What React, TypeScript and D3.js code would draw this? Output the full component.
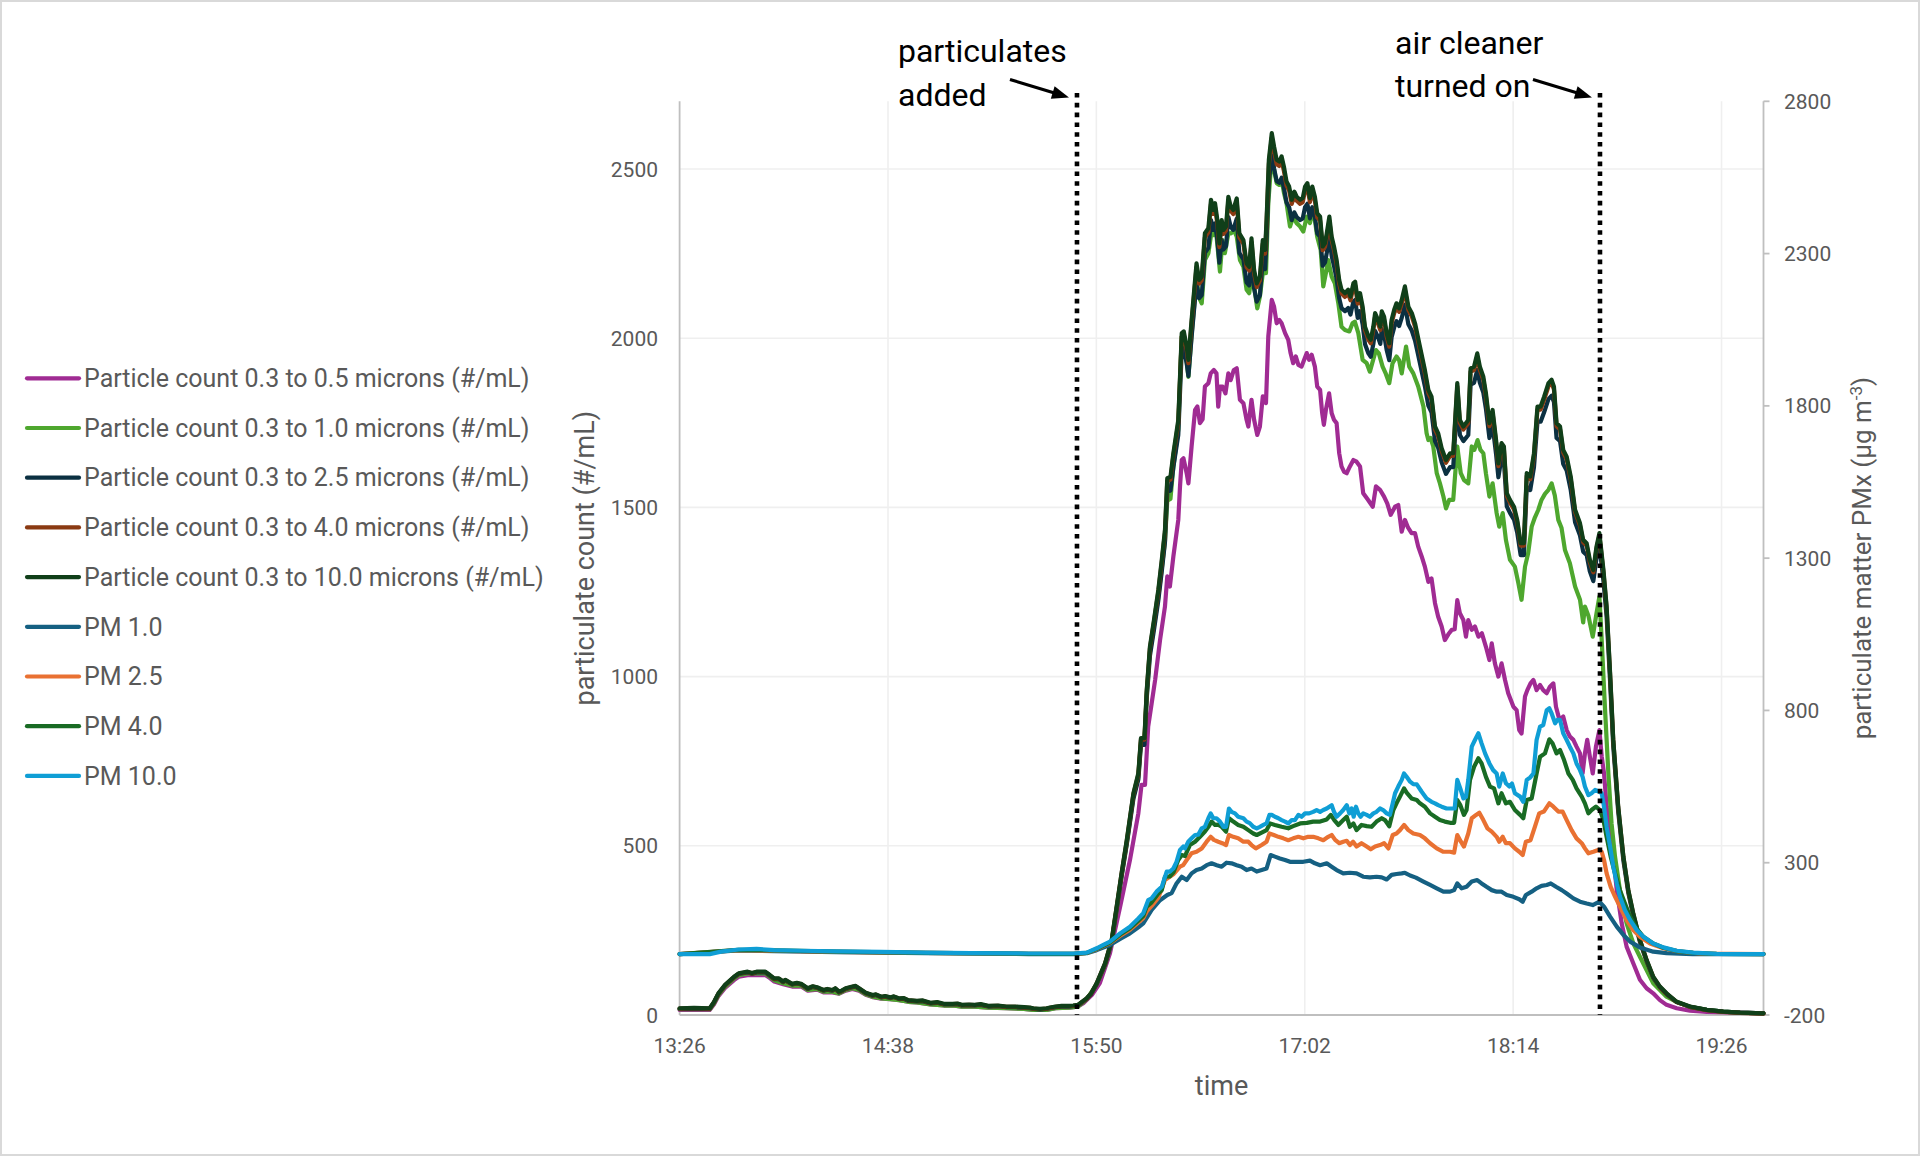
import React from 'react';
import * as d3 from 'd3';

// ---------- axis / tick data ----------
const xTickLabels = ['13:26', '14:38', '15:50', '17:02', '18:14', '19:26'];
const xEndMinutes = 374.5; // minutes after 13:26 where the data ends
const leftMax = 2700;
const leftTicks = [0, 500, 1000, 1500, 2000, 2500];
const rightMin = -200;
const rightMax = 2800;
const rightTicks = [-200, 300, 800, 1300, 1800, 2300, 2800];

// events (minutes after 13:26)
const eventMinutes = [137.3, 318.0];
const eventLabels = [['particulates', 'added'], ['air cleaner', 'turned on']];

// ---------- particle counts (#/mL) ----------
// shared sampling times (minutes after 13:26) for 0.3-2.5, 0.3-4.0, 0.3-10.0
const countTimes = [
  0, 5, 10.4, 11.9, 13.4, 15.7, 18.8, 20.4, 23.5, 25,
  26.6, 29.6, 31.2, 32.7, 34.3, 35.8, 36.5, 38.9, 40.5, 42,
  44.3, 46, 47.5, 49.7, 51, 52.8, 53.8, 55.1, 56, 57.4,
  59.7, 60.8, 62, 64.3, 66.7, 67.8, 69.7, 71, 72.8, 74,
  75.9, 77.5, 79, 82, 84, 86.7, 89, 91.3, 94.4, 96,
  97.5, 100, 102, 104, 106.7, 110, 112.9, 116, 119, 121,
  122.2, 124.5, 126.8, 128, 129.9, 132, 134.5, 136, 137.6,
  140.6, 142.2, 144.1, 147, 149.3, 151, 152.7, 154.5, 156.8, 158.5,
  159.4, 160.6, 161.4, 162.5, 163.9, 165.4, 166.6, 167.7, 168.5, 169.6,
  170.6, 172.3, 173.5, 174.2, 175.2, 175.8, 176.9, 178.6, 179.5, 180.4,
  181.5, 182.7, 183.6, 184.4, 185, 185.8, 186.5, 187.3, 187.9, 188.8,
  189.6, 190.4, 191.3, 192.5, 193.4, 194.8, 195.9, 196.8, 197.6, 198.5,
  199.4, 200.5, 201.5, 202.3, 202.8, 203.6, 204.6, 205.4, 206.3, 207.2,
  208, 208.8, 209.7, 210.6, 211.5, 212.4, 213.2, 214.4, 215.3, 216.1,
  216.9, 217.8, 218.6, 219.5, 220.3, 221.3, 222.2, 223, 223.6, 224.5,
  225.3, 226.1, 227, 227.9, 228.7, 229.9, 231, 231.8, 232.8, 233.4,
  234.3, 235.1, 236, 236.8, 238, 238.8, 239.7, 240.3, 241.3, 242.1,
  242.6, 243.4, 244.3, 245.2, 246, 246.9, 247.7, 248.6, 249.5, 250.6,
  251.8, 253, 254.1, 255.8, 257.5, 258.7, 259.8, 261, 262.1, 263.3,
  264.8, 266.2, 267.3, 268.7, 269.6, 270.8, 272.5, 273.3, 274.5, 275.6,
  276.5, 277.7, 278.6, 279.8, 280.9, 282.1, 282.9, 284, 284.8, 285.8,
  286.9, 288.3, 289.4, 290.6, 291.7, 292.7, 293.9, 295.2, 296.4, 297.5,
  298.7, 300.2, 301.3, 302.1, 303, 304.2, 305.3, 306.5, 307.9, 309.4,
  311.1, 312.2, 313.4, 314.5, 315.7, 316.8, 317.8, 319.2, 320.3, 321.5,
  322.6, 324.3, 326.1, 327.8, 329.5, 331.8, 334.1, 336.4, 338.7, 341,
  344.5, 349.1, 354.9, 360.6, 366.4, 374.5,
];

const count10_0 = [
  20, 21, 20, 39, 64, 89, 113, 123, 128, 124,
  128, 128, 118, 108, 108, 99, 104, 92, 95, 92,
  79, 85, 82, 74, 77, 74, 79, 69, 72, 79,
  84, 86, 79, 66, 59, 61, 54, 56, 52, 55,
  49, 50, 44, 42, 43, 36, 38, 33, 33, 34,
  30, 31, 30, 32, 27, 28, 25, 25, 23, 22,
  20, 18, 20, 22, 25, 27, 27, 28, 30,
  49, 64, 94, 153, 222, 320, 419, 517, 655, 714,
  818, 818, 960, 1088, 1167, 1256, 1345, 1433, 1586, 1590,
  1660, 1758, 2015, 2020, 1975, 1936, 2054, 2221, 2172, 2182,
  2310, 2325, 2409, 2379, 2399, 2349, 2280, 2349, 2320, 2330,
  2418, 2389, 2379, 2413, 2310, 2290, 2221, 2211, 2295, 2202,
  2162, 2182, 2290, 2261, 2349, 2527, 2606, 2566, 2527, 2522,
  2537, 2507, 2463, 2448, 2409, 2433, 2418, 2409, 2414, 2448,
  2458, 2414, 2448, 2418, 2369, 2359, 2271, 2281, 2310, 2359,
  2300, 2271, 2231, 2172, 2143, 2133, 2143, 2123, 2162, 2167,
  2113, 2133, 2093, 2034, 2005, 1995, 2034, 2074, 2054, 2034,
  2079, 2064, 2015, 1985, 2054, 2084, 2103, 2088, 2113, 2153,
  2093, 2074, 2044, 1975, 1906, 1847, 1827, 1739, 1719, 1675,
  1640, 1660, 1660, 1867, 1758, 1739, 1758, 1911, 1916, 1955,
  1916, 1886, 1837, 1749, 1788, 1699, 1630, 1690, 1680, 1542,
  1522, 1502, 1463, 1394, 1394, 1601, 1591, 1660, 1798, 1798,
  1827, 1867, 1877, 1857, 1749, 1739, 1670, 1650, 1591, 1493,
  1453, 1404, 1394, 1345, 1315, 1384, 1424, 1315, 1207, 1010,
  813, 616, 468, 369, 301, 222, 163, 113, 84, 64,
  39, 25, 15, 10, 7, 5,
];

const count4_0 = [
  19, 20, 19, 38, 63, 88, 112, 122, 127, 123,
  127, 127, 117, 107, 107, 98, 103, 91, 94, 91,
  78, 84, 81, 73, 76, 73, 78, 68, 71, 78,
  83, 85, 78, 65, 58, 60, 53, 55, 51, 54,
  48, 49, 43, 41, 42, 35, 37, 32, 32, 33,
  29, 30, 29, 31, 26, 27, 24, 24, 22, 21,
  19, 17, 19, 21, 24, 26, 26, 27, 29,
  48, 63, 93, 152, 221, 318, 417, 514, 652, 710,
  814, 814, 955, 1083, 1161, 1250, 1338, 1426, 1578, 1582,
  1652, 1749, 2005, 2010, 1965, 1926, 2044, 2210, 2161, 2171,
  2298, 2313, 2397, 2367, 2387, 2337, 2269, 2337, 2308, 2318,
  2406, 2377, 2367, 2401, 2298, 2279, 2210, 2200, 2284, 2191,
  2151, 2171, 2279, 2250, 2337, 2514, 2593, 2553, 2514, 2509,
  2524, 2494, 2451, 2436, 2397, 2421, 2406, 2397, 2402, 2436,
  2446, 2402, 2436, 2406, 2357, 2347, 2260, 2270, 2298, 2347,
  2289, 2260, 2220, 2161, 2132, 2122, 2132, 2112, 2151, 2156,
  2102, 2122, 2083, 2024, 1995, 1985, 2024, 2064, 2044, 2024,
  2069, 2054, 2005, 1975, 2044, 2074, 2092, 2078, 2102, 2142,
  2083, 2064, 2034, 1965, 1896, 1838, 1818, 1730, 1710, 1667,
  1632, 1652, 1652, 1858, 1749, 1730, 1749, 1901, 1906, 1945,
  1906, 1877, 1828, 1740, 1779, 1691, 1622, 1682, 1672, 1534,
  1514, 1494, 1456, 1387, 1387, 1593, 1583, 1652, 1789, 1789,
  1818, 1858, 1868, 1848, 1740, 1730, 1662, 1642, 1583, 1486,
  1446, 1397, 1387, 1338, 1308, 1377, 1417, 1308, 1201, 1005,
  809, 613, 466, 367, 299, 221, 162, 112, 83, 63,
  38, 24, 14, 9, 6, 4,
];

const count2_5 = [
  18, 19, 18, 37, 62, 87, 111, 121, 126, 122,
  126, 126, 116, 106, 106, 97, 102, 90, 93, 90,
  77, 83, 80, 72, 75, 72, 77, 67, 70, 77,
  82, 84, 77, 64, 57, 59, 52, 54, 50, 53,
  47, 48, 42, 40, 41, 34, 36, 31, 31, 32,
  28, 29, 28, 30, 25, 26, 23, 23, 21, 20,
  18, 16, 18, 20, 23, 25, 25, 26, 28,
  47, 62, 91, 149, 216, 312, 409, 504, 639, 696,
  798, 798, 936, 1061, 1138, 1225, 1311, 1397, 1546, 1550,
  1619, 1714, 1965, 1970, 1926, 1888, 2003, 2165, 2118, 2127,
  2252, 2267, 2349, 2320, 2339, 2290, 2223, 2290, 2262, 2272,
  2358, 2329, 2320, 2353, 2252, 2233, 2165, 2156, 2238, 2147,
  2108, 2127, 2233, 2204, 2290, 2464, 2541, 2502, 2464, 2459,
  2474, 2444, 2401, 2387, 2349, 2372, 2358, 2349, 2354, 2387,
  2397, 2354, 2387, 2358, 2310, 2300, 2214, 2224, 2252, 2300,
  2243, 2214, 2175, 2118, 2089, 2080, 2089, 2070, 2108, 2113,
  2060, 2080, 2041, 1983, 1955, 1945, 1983, 2022, 2003, 1983,
  2027, 2012, 1965, 1935, 2003, 2032, 2050, 2036, 2060, 2099,
  2041, 2022, 1993, 1926, 1858, 1801, 1781, 1696, 1676, 1633,
  1599, 1619, 1619, 1820, 1714, 1696, 1714, 1863, 1868, 1906,
  1868, 1839, 1791, 1705, 1743, 1657, 1589, 1648, 1638, 1503,
  1484, 1464, 1426, 1359, 1359, 1561, 1551, 1619, 1753, 1753,
  1781, 1820, 1830, 1811, 1705, 1696, 1628, 1609, 1551, 1456,
  1417, 1369, 1359, 1311, 1282, 1349, 1388, 1282, 1177, 985,
  793, 601, 456, 360, 293, 216, 159, 110, 82, 62,
  38, 24, 15, 10, 7, 5,
];

// [minutes after 13:26, count]
const count1_0: [number, number][] = [
  [0, 17], [5, 18], [10.4, 17], [11.9, 35], [13.4, 59], [15.7, 84], [18.8, 108], [20.4, 118], [23.5, 123], [26.6, 123],
  [29.6, 123], [31.2, 113], [32.7, 103], [35.8, 94], [38.9, 87], [42, 87], [44.3, 74], [47.5, 77], [49.7, 69], [52.8, 69],
  [55.1, 64], [57.4, 74], [59.7, 79], [62, 74], [64.3, 61], [66.7, 54], [69.7, 49], [72.8, 47], [75.9, 44], [79, 39],
  [82, 37], [86.7, 31], [91.3, 28], [94.4, 28], [97.5, 25], [102, 25], [106.7, 22], [112.9, 20], [119, 18], [122.2, 15],
  [126.8, 15], [129.9, 20], [134.5, 22], [137.6, 25],
  [140.6, 46], [144.1, 90], [147, 148], [149.3, 215], [151, 312], [152.7, 410], [154.5, 508], [156.8, 645], [158.5, 703], [159.4, 805],
  [160.6, 808], [161.4, 945], [162.5, 1072], [163.9, 1150], [165.4, 1235], [166.6, 1320], [167.7, 1400], [168.5, 1520], [169.6, 1525], [170.6, 1620],
  [172.3, 1730], [173.5, 2005], [174.2, 1990], [175.2, 1930], [175.8, 1886], [176.9, 2010], [178.6, 2172], [179.5, 2120], [180.4, 2103], [181.5, 2231],
  [182.7, 2251], [183.8, 2315], [184.6, 2305], [185.3, 2320], [186.7, 2197], [187.6, 2290], [188.4, 2251], [189.6, 2310], [190.6, 2310], [191.5, 2320],
  [192.5, 2300], [193.6, 2231], [194.8, 2211], [195.9, 2143], [196.8, 2133], [197.6, 2182], [198.5, 2153], [199.6, 2088], [200.5, 2123], [201.5, 2192],
  [202.6, 2192], [203.4, 2399], [204.6, 2537], [205.4, 2497], [206.3, 2458], [207.2, 2453], [208, 2468], [208.8, 2430], [209.7, 2399], [210.9, 2330],
  [212, 2359], [213.2, 2340], [214.4, 2330], [215.5, 2315], [216.7, 2359], [217.8, 2340], [218.6, 2369], [219.5, 2349], [220.3, 2300], [221.5, 2261],
  [222.4, 2153], [223.3, 2192], [224.1, 2231], [225.3, 2182], [226.4, 2162], [227.6, 2103], [228.7, 2034], [229.9, 2024], [231.4, 2020], [232.5, 2044],
  [233.3, 2049], [234.5, 2015], [236, 1936], [237.4, 1926], [238.5, 1901], [239.6, 1935], [240.6, 1965], [241.6, 1955], [242.9, 1916], [244, 1895],
  [245.2, 1867], [246.3, 1925], [247.7, 1946], [248.6, 1935], [249.5, 1896], [251, 1975], [252.1, 1916], [253.5, 1896], [255.2, 1857], [257, 1798],
  [258.1, 1719], [258.7, 1699], [259.5, 1705], [260.4, 1680], [261.6, 1601], [262.7, 1571], [263.9, 1532], [264.8, 1497], [265.9, 1522], [267.3, 1522],
  [268.7, 1680], [269.9, 1601], [271, 1581], [272.5, 1571], [273.7, 1680], [274.6, 1670], [275.7, 1699], [276.7, 1670], [277.7, 1660], [278.6, 1600],
  [279.8, 1532], [280.9, 1571], [282.3, 1483], [283.2, 1443], [284.4, 1483], [285.5, 1404], [286.9, 1345], [288.6, 1325], [289.8, 1276], [290.9, 1227],
  [292.1, 1325], [293.2, 1365], [294.4, 1443], [295.5, 1470], [296.7, 1493], [297.8, 1522], [299, 1540], [300.2, 1552], [301.3, 1571], [302.4, 1535],
  [303.6, 1463], [304.7, 1440], [305.9, 1374], [307.6, 1335], [309.4, 1266], [311.1, 1227], [312.2, 1160], [312.8, 1207], [314, 1180], [315.5, 1118],
  [316.8, 1187], [317.8, 1236], [318.6, 1108], [319.7, 911], [320.9, 714], [322, 566], [323.2, 468], [324.9, 369], [327.2, 271], [329.5, 212],
  [331.8, 172], [334.1, 133], [336.4, 94], [338.7, 74], [341, 54], [344.5, 39], [349.1, 24], [354.9, 15], [360.6, 10], [366.4, 7],
  [374.5, 5],
];

const count0_5: [number, number][] = [
  [0, 15], [10.4, 15], [11.9, 32], [13.4, 56], [15.7, 80], [18.8, 103], [20.4, 113], [23.5, 118], [26.6, 118], [29.6, 118],
  [31.2, 109], [32.7, 99], [35.8, 91], [38.9, 84], [42, 84], [44.3, 72], [47.5, 75], [49.7, 67], [52.8, 67], [55.1, 63],
  [57.4, 72], [59.7, 77], [62, 72], [64.3, 60], [66.7, 53], [69.7, 48], [72.8, 47], [75.9, 44], [79, 39], [82, 37],
  [86.7, 31], [91.3, 28], [94.4, 28], [97.5, 25], [102, 25], [106.7, 22], [112.9, 20], [119, 18], [122.2, 15], [126.8, 15],
  [129.9, 20], [134.5, 22], [137.6, 25],
  [139.5, 35], [142.5, 60], [145.2, 94], [148.7, 182], [152.2, 320], [155.6, 458], [158.5, 596], [159.6, 680], [160.8, 680], [161.9, 852],
  [163.1, 921], [164.3, 990], [166, 1108], [167.7, 1207], [168.5, 1296], [169.4, 1266], [170.6, 1355], [172.3, 1463], [172.9, 1562], [173.5, 1640],
  [174.1, 1645], [175.2, 1601], [175.8, 1571], [176.9, 1680], [178.1, 1788], [178.9, 1798], [179.8, 1749], [180.7, 1760], [181.5, 1857], [182.7, 1867],
  [183.5, 1896], [184.6, 1906], [185.5, 1896], [186.1, 1798], [186.7, 1857], [187.6, 1857], [188.6, 1837], [189.6, 1896], [190.4, 1876], [191.5, 1906],
  [192.5, 1911], [193.6, 1818], [194.8, 1808], [195.9, 1759], [196.5, 1739], [197.6, 1818], [198.5, 1759], [199.6, 1714], [200.5, 1739], [201.5, 1828],
  [202.6, 1808], [203.4, 2005], [204.6, 2113], [205.4, 2093], [206.3, 2044], [207.2, 2054], [208, 2044], [209.2, 2015], [210.3, 1995], [211.1, 1956],
  [212, 1926], [212.9, 1946], [213.8, 1921], [214.9, 1916], [215.8, 1936], [216.7, 1956], [217.5, 1936], [218.4, 1951], [219.5, 1916], [220.3, 1857],
  [221.3, 1847], [222, 1780], [222.6, 1744], [223.3, 1788], [224.4, 1837], [225.3, 1778], [226.1, 1759], [227, 1749], [227.9, 1660], [228.7, 1621],
  [229.6, 1605], [230.5, 1601], [231.6, 1621], [232.8, 1640], [233.9, 1635], [235.1, 1621], [236.2, 1542], [237.9, 1522], [239.5, 1502], [240.6, 1562],
  [242, 1552], [243.4, 1532], [244.5, 1512], [245.7, 1478], [247.2, 1502], [248.3, 1507], [249.5, 1428], [250.6, 1463], [251.7, 1440], [252.9, 1424],
  [254.1, 1424], [255.2, 1384], [256.4, 1355], [257.5, 1325], [258.7, 1280], [259.8, 1290], [261, 1217], [262.1, 1177], [263.3, 1148], [264.4, 1108],
  [265.6, 1125], [266.8, 1138], [267.8, 1140], [268.7, 1226], [269.6, 1187], [270.8, 1167], [271.7, 1118], [272.5, 1167], [273.7, 1138], [274.8, 1148],
  [276, 1118], [277.2, 1128], [278.6, 1088], [279.8, 1049], [280.6, 1098], [281.7, 1039], [282.9, 1000], [284, 1039], [285.2, 990], [286.3, 951],
  [288.1, 911], [289.2, 901], [290.1, 842], [290.9, 832], [292.1, 941], [292.9, 960], [294, 980], [295, 990], [296.1, 960], [297.3, 975],
  [298.4, 960], [299.6, 951], [300.7, 970], [301.9, 980], [302.8, 911], [304, 872], [305.3, 882], [306.5, 842], [307.6, 823], [308.8, 813],
  [309.9, 793], [311.1, 773], [312, 714], [312.8, 773], [313.6, 813], [314.5, 764], [315.5, 714], [316.6, 793], [317.8, 842], [318.6, 764],
  [319.4, 714], [320.3, 616], [321.5, 517], [322.6, 468], [323.8, 369], [325.5, 271], [327.2, 202], [329.5, 153], [331.8, 104], [334.1, 79],
  [336.4, 64], [338.7, 44], [341, 30], [344.5, 20], [349.1, 13], [354.9, 9], [366.4, 7], [374.5, 5],
];

// ---------- particulate matter (µg m-3), right axis ----------
const pm10_0: [number, number][] = [
  [0, 0], [10.4, 0], [14.3, 8], [20.4, 15], [26.6, 17], [32.7, 13], [42, 11], [54.3, 9], [69.7, 7], [85.1, 5],
  [100.6, 3], [120.7, 2], [136.1, 2], [140.7, 5], [144.1, 19], [146.4, 30], [148.7, 41], [152.2, 68], [155.6, 90], [158.5, 117],
  [160.2, 134], [161.9, 177], [163.1, 183], [164.8, 205], [166.6, 221], [168.3, 271], [169.4, 271], [170.6, 281], [171.7, 303], [172.9, 342],
  [174, 353], [174.6, 347], [175.8, 370], [176.9, 380], [178.1, 391], [179.2, 392], [180.4, 413], [181.5, 418], [182.7, 446], [183.5, 462],
  [184.4, 446], [185.5, 446], [186.7, 435], [187.9, 418], [188.8, 418], [189.8, 478], [190.7, 467], [191.9, 462], [193, 451], [194.8, 446],
  [195.9, 435], [197, 430], [198.2, 418], [199.4, 413], [200.5, 418], [201.7, 424], [202.8, 429], [203.8, 457], [204.6, 457], [205.7, 451],
  [206.9, 446], [208, 440], [209.2, 435], [210.3, 429], [211.5, 440], [212.6, 440], [213.8, 457], [214.9, 451], [216.1, 462], [217.5, 462],
  [218.9, 467], [220.1, 473], [221.3, 467], [222.4, 473], [223.6, 478], [224.5, 484], [225.3, 489], [226.1, 467], [227, 451], [228.2, 462],
  [229.3, 473], [230.5, 489], [231.4, 462], [232.2, 478], [232.9, 451], [233.7, 484], [234.5, 462], [235.3, 451], [236.2, 462], [237.4, 457],
  [238.5, 451], [239.7, 462], [240.8, 467], [242, 478], [243.1, 473], [244.3, 462], [245.4, 457], [246.4, 495], [247.2, 528], [248.3, 550],
  [249.5, 572], [250.3, 593], [251.2, 582], [252.4, 566], [253.5, 558], [254.7, 557], [256.4, 533], [258.1, 511], [259.8, 500], [261, 495],
  [262.1, 489], [263.3, 484], [265, 478], [266.8, 478], [267.8, 478], [268.7, 572], [269.7, 545], [270.8, 511], [271.7, 516], [272.5, 572],
  [273.7, 681], [274.8, 703], [276, 725], [277.1, 692], [278.3, 659], [279.8, 626], [281.1, 604], [282.3, 593], [283.2, 550], [284.4, 593],
  [285.5, 561], [286.7, 550], [287.6, 560], [288.6, 528], [290.4, 517], [291.5, 500], [292.7, 572], [293.9, 580], [295, 593], [296.1, 703],
  [297.3, 747], [298.4, 752], [299.6, 801], [300.5, 807], [301.3, 790], [302.5, 758], [303.3, 769], [304.2, 769], [305.3, 725], [306.5, 703],
  [307.6, 681], [308.8, 659], [309.9, 626], [311.1, 604], [312, 582], [312.8, 550], [314, 522], [315.1, 528], [316.3, 539], [317.8, 533],
  [318.6, 528], [319.4, 484], [320.3, 418], [321.5, 353], [322.6, 287], [323.8, 232], [324.9, 189], [326.6, 145], [328.4, 112], [330.7, 79],
  [333, 57], [336.4, 35], [339.9, 22], [344.5, 11], [350.2, 5], [358.3, 1], [366.4, 0], [374.5, 0],
];

const pm4_0: [number, number][] = [
  [0, 0], [20.4, 14], [32.7, 12], [54.3, 8], [85.1, 4], [120.7, 1], [136.1, 1], [140.7, 4], [144.1, 17], [148.7, 38],
  [152.2, 64], [155.6, 85], [158.5, 110], [160.2, 125], [161.4, 156], [163.1, 170], [165.4, 199], [166.6, 210], [167.7, 254], [169.4, 255],
  [170.6, 268], [172.3, 309], [173.5, 325], [174.6, 322], [176.3, 358], [178.1, 369], [179.8, 385], [181.5, 402], [182.7, 418], [183.8, 435],
  [185, 424], [186.1, 425], [187.3, 418], [188.8, 402], [189.8, 446], [191.3, 435], [193, 424], [194.8, 418], [196.5, 407], [198.2, 396],
  [199.4, 391], [201.1, 399], [202.8, 407], [204, 429], [205.7, 424], [208, 418], [210.3, 413], [212, 420], [214.4, 429], [216.7, 431],
  [218.9, 435], [221.3, 435], [223.6, 442], [225, 457], [226.2, 440], [227.6, 424], [229.3, 440], [230.5, 451], [231.6, 418], [232.8, 429],
  [233.9, 407], [235.6, 424], [237.4, 420], [239.1, 418], [240.8, 435], [242.6, 446], [243.7, 440], [245.2, 420], [246.6, 473], [247.7, 495],
  [248.9, 517], [250.3, 544], [251.2, 530], [252.9, 511], [254.7, 506], [255.8, 495], [257.5, 484], [259.3, 462], [261, 451], [262.7, 440],
  [264.4, 435], [266.2, 431], [267.6, 431], [268.7, 506], [269.7, 490], [271, 457], [271.9, 473], [273.1, 572], [274.5, 615], [276, 643],
  [277.1, 626], [278.6, 582], [280, 550], [281.4, 544], [282.9, 495], [284, 528], [285.5, 495], [286.9, 500], [288.6, 473], [290.4, 457],
  [291.5, 446], [292.7, 506], [294.4, 511], [296.1, 593], [297.3, 648], [299, 659], [300.5, 705], [301.6, 692], [303, 659], [304.2, 670],
  [305.6, 637], [307.1, 593], [308.6, 572], [309.9, 544], [311.7, 517], [312.8, 495], [314, 462], [315.1, 473], [316.6, 484], [318, 473],
  [319.2, 440], [320.3, 385], [321.7, 320], [323.2, 265], [324.9, 210], [326.6, 167], [328.4, 123], [330.7, 84], [333, 57], [336.4, 35],
  [339.9, 21], [344.5, 10], [350.2, 4], [358.3, 1], [374.5, 0],
];

const pm2_5: [number, number][] = [
  [0, 0], [20.4, 13], [32.7, 11], [54.3, 7], [85.1, 4], [120.7, 1], [136.1, 1], [140.7, 4], [144.1, 16], [148.7, 36],
  [152.2, 60], [155.6, 80], [158.5, 104], [160.2, 118], [161.4, 140], [163.1, 158], [165.4, 185], [167.7, 243], [170.6, 262], [172.9, 287],
  [174, 292], [175.2, 309], [176.9, 331], [178.6, 336], [180.4, 347], [182.1, 369], [183.5, 385], [184.6, 375], [186.1, 369], [187.5, 364],
  [188.8, 358], [189.8, 391], [191.3, 385], [193, 380], [194.8, 369], [196.5, 369], [197.6, 358], [199.1, 347], [201.1, 358], [202.8, 369],
  [203.8, 396], [205.3, 391], [206.9, 385], [208.6, 380], [210.3, 374], [212, 380], [213.8, 385], [215.5, 380], [217.2, 385], [218.9, 385],
  [220.7, 380], [222.4, 374], [224.1, 385], [225.3, 391], [226.5, 375], [227.9, 364], [229.3, 369], [230.5, 372], [231.6, 358], [232.7, 369],
  [233.9, 353], [235.6, 364], [237.4, 353], [238.8, 344], [240.3, 353], [242, 358], [243.4, 364], [244.9, 347], [246.4, 391], [247.7, 396],
  [248.9, 407], [250.3, 424], [251.8, 407], [253.5, 396], [255.8, 391], [257.5, 380], [259.3, 364], [261.6, 347], [263.9, 336], [266.2, 336],
  [267.6, 333], [268.7, 391], [269.9, 370], [271, 353], [272.5, 396], [273.7, 446], [275.2, 457], [276.3, 464], [277.7, 440], [279.1, 413],
  [280.6, 402], [282.3, 385], [283.2, 369], [284.4, 385], [285.5, 364], [286.9, 364], [288.6, 347], [290.1, 336], [291.3, 325], [292.4, 369],
  [294, 374], [295.5, 418], [297, 462], [298.6, 468], [300.5, 495], [301.9, 484], [303.6, 468], [305.1, 468], [306.5, 440], [308.2, 407],
  [309.9, 380], [311.7, 364], [312.8, 347], [314, 331], [315.7, 336], [317.4, 342], [318.6, 336], [319.4, 309], [320.3, 265], [321.7, 221],
  [323.2, 189], [324.9, 156], [327.2, 112], [329.5, 79], [331.8, 57], [335.3, 35], [339.9, 19], [345.6, 8], [352.5, 2], [374.5, 0],
];

const pm1_0: [number, number][] = [
  [0, 0], [20.4, 12], [32.7, 10], [54.3, 6], [85.1, 3], [120.7, 0], [136.1, 0], [140.7, 3], [144.1, 13], [148.7, 30],
  [152.2, 50], [155.6, 68], [158.5, 88], [160.2, 101], [163.1, 145], [166, 177], [168.5, 194], [170, 200], [171.7, 232], [173.5, 254],
  [175.2, 243], [176.9, 265], [178.6, 276], [180.4, 281], [182.1, 292], [183.8, 298], [185.6, 292], [187.3, 287], [189, 300], [190.7, 298],
  [192.5, 292], [194.2, 287], [195.9, 276], [197.6, 281], [199.4, 271], [201.1, 276], [202.8, 281], [204.2, 325], [205.7, 320], [207.4, 314],
  [209.2, 309], [210.9, 303], [213.2, 303], [215.5, 303], [217.8, 307], [219.5, 298], [221.3, 292], [223.6, 298], [225.3, 287], [227, 276],
  [229.3, 265], [231.6, 267], [233.9, 265], [236.2, 254], [238.5, 252], [240.8, 254], [242.6, 252], [244.3, 245], [246, 260], [247.7, 263],
  [249.5, 265], [250.6, 267], [252.4, 258], [254.4, 251], [257, 238], [259.3, 227], [261.6, 216], [263.9, 205], [266.2, 205], [267.6, 210],
  [268.7, 232], [270.2, 216], [271.9, 221], [273.7, 238], [275.6, 243], [277.1, 232], [278.8, 221], [280.6, 210], [282.3, 205], [284, 205],
  [285.8, 194], [288.1, 188], [290.1, 180], [291.3, 172], [292.4, 194], [294.4, 205], [296.1, 216], [297.8, 224], [299.6, 227], [301, 232],
  [302.8, 221], [304.8, 210], [306.5, 199], [308.8, 183], [311.1, 172], [313.4, 166], [315.5, 161], [317.8, 172], [319.4, 156], [321.5, 123],
  [323.8, 90], [326.1, 63], [328.4, 41], [331.8, 22], [336.4, 8], [341, 3], [350, 0], [374.5, 0],
];

// ---------- series metadata ----------
const zip = (t: number[], v: number[]): [number, number][] => t.map((d, i) => [d, v[i]]);

const countSeries = [
  { name: 'Particle count 0.3 to 0.5 microns (#/mL)', color: '#A02B93', data: count0_5 },
  { name: 'Particle count 0.3 to 1.0 microns (#/mL)', color: '#4EA72E', data: count1_0 },
  { name: 'Particle count 0.3 to 2.5 microns (#/mL)', color: '#0B3041', data: zip(countTimes, count2_5) },
  { name: 'Particle count 0.3 to 4.0 microns (#/mL)', color: '#8A3A12', data: zip(countTimes, count4_0) },
  { name: 'Particle count 0.3 to 10.0 microns (#/mL)', color: '#103F19', data: zip(countTimes, count10_0) },
];
const pmSeries = [
  { name: 'PM 1.0', color: '#156082', data: pm1_0 },
  { name: 'PM 2.5', color: '#E97132', data: pm2_5 },
  { name: 'PM 4.0', color: '#196B24', data: pm4_0 },
  { name: 'PM 10.0', color: '#0F9ED5', data: pm10_0 },
];

// ---------- layout ----------
const W = 1920;
const H = 1156;
const plot = { left: 679.6, right: 1763.5, top: 101.3, bottom: 1015 };
const FONT = "Roboto, 'Liberation Sans', Arial, sans-serif";
const GREY_TEXT = '#595959';
const AXIS = '#BFBFBF';
const GRID = '#EFEFEF';
const LINE_W = 4.2;

const hm = (s: string) => {
  const [h, m] = s.split(':').map(Number);
  return h * 60 + m;
};

export default function App() {
  const start = hm(xTickLabels[0]);
  const x = d3.scaleLinear().domain([0, xEndMinutes]).range([plot.left, plot.right]);
  const yL = d3.scaleLinear().domain([0, leftMax]).range([plot.bottom, plot.top]);
  const yR = d3.scaleLinear().domain([rightMin, rightMax]).range([plot.bottom, plot.top]);

  const lineL = d3.line<[number, number]>().x((d) => x(d[0])).y((d) => yL(d[1]));
  const lineR = d3.line<[number, number]>().x((d) => x(d[0])).y((d) => yR(d[1]));

  const legendItems = [...countSeries, ...pmSeries];
  const legendY0 = 378.3;
  const legendStep = 49.7;

  const cx = (plot.left + plot.right) / 2;
  const cy = (plot.top + plot.bottom) / 2;

  // annotation layout
  const annText = [
    { dx: -179, y1: 62, y2: 106 },
    { dx: -205, y1: 54, y2: 97 },
  ];
  const dotTop = 93;

  const arrow = (xe: number) => {
    const tip = [xe - 8, 97.5];
    const st = [xe - 67, 79.5];
    const len = Math.hypot(tip[0] - st[0], tip[1] - st[1]);
    const ux = (tip[0] - st[0]) / len;
    const uy = (tip[1] - st[1]) / len;
    const nx = -uy;
    const ny = ux;
    const hl = 17;
    const hw = 6.5;
    const bx = tip[0] - ux * hl;
    const by = tip[1] - uy * hl;
    return (
      <g>
        <line x1={st[0]} y1={st[1]} x2={tip[0] - ux * 10} y2={tip[1] - uy * 10} stroke="#000" strokeWidth={3.2} />
        <polygon
          points={`${tip[0]},${tip[1]} ${bx + nx * hw},${by + ny * hw} ${bx - nx * hw},${by - ny * hw}`}
          fill="#000"
        />
      </g>
    );
  };

  return (
    <div style={{ position: 'absolute', left: 0, top: 0 }}>
      <svg width={W} height={H} viewBox={`0 0 ${W} ${H}`} style={{ display: 'block', background: '#fff' }}>
        <rect x={1} y={1} width={W - 2} height={H - 2} fill="#fff" stroke="#D9D9D9" strokeWidth={2} />

        {/* gridlines */}
        {leftTicks.filter((v) => v > 0).map((v) => (
          <line key={'hg' + v} x1={plot.left} x2={plot.right} y1={yL(v)} y2={yL(v)} stroke={GRID} strokeWidth={1.6} />
        ))}
        {xTickLabels.slice(1).map((l) => (
          <line key={'vg' + l} x1={x(hm(l) - start)} x2={x(hm(l) - start)} y1={plot.top} y2={plot.bottom} stroke={GRID} strokeWidth={1.6} />
        ))}

        {/* axes */}
        <line x1={plot.left} x2={plot.left} y1={plot.top} y2={plot.bottom} stroke={AXIS} strokeWidth={1.8} />
        <line x1={plot.right} x2={plot.right} y1={plot.top} y2={plot.bottom} stroke={AXIS} strokeWidth={1.8} />
        <line x1={plot.left} x2={plot.right} y1={plot.bottom} y2={plot.bottom} stroke={AXIS} strokeWidth={1.8} />
        {rightTicks.map((v) => (
          <line key={'rt' + v} x1={plot.right} x2={plot.right + 6} y1={yR(v)} y2={yR(v)} stroke={AXIS} strokeWidth={1.8} />
        ))}

        {/* tick labels */}
        <g fontFamily={FONT} fontSize={21} fill={GREY_TEXT}>
          {leftTicks.map((v) => (
            <text key={'lt' + v} x={658} y={yL(v)} dy="0.36em" textAnchor="end">{v}</text>
          ))}
          {rightTicks.map((v) => (
            <text key={'rl' + v} x={1784} y={yR(v)} dy="0.36em" textAnchor="start">{v}</text>
          ))}
          {xTickLabels.map((l) => (
            <text key={'xl' + l} x={x(hm(l) - start)} y={1045} dy="0.36em" textAnchor="middle">{l}</text>
          ))}
        </g>

        {/* axis titles */}
        <g fontFamily={FONT} fill={GREY_TEXT}>
          <text x={cx} y={1095} fontSize={27} textAnchor="middle">time</text>
          <text transform={`translate(594,${cy}) rotate(-90)`} fontSize={27} textAnchor="middle">
            particulate count (#/mL)
          </text>
          <text transform={`translate(1871,${cy}) rotate(-90)`} fontSize={26} textAnchor="middle">
            particulate matter PMx (μg m<tspan dy={-9} fontSize={17}>-3</tspan><tspan dy={9}>)</tspan>
          </text>
        </g>

        {/* series */}
        <g fill="none" strokeWidth={LINE_W} strokeLinejoin="round" strokeLinecap="round">
          {countSeries.map((s) => (
            <path key={s.name} d={lineL(s.data) || ''} stroke={s.color} />
          ))}
          {pmSeries.map((s) => (
            <path key={s.name} d={lineR(s.data) || ''} stroke={s.color} />
          ))}
        </g>

        {/* event markers */}
        {eventMinutes.map((m, i) => (
          <g key={'ev' + i}>
            <line x1={x(m)} x2={x(m)} y1={dotTop} y2={plot.bottom} stroke="#000" strokeWidth={4.6} strokeDasharray="4.6 5.2" />
            {arrow(x(m))}
            <text x={x(m) + annText[i].dx} y={annText[i].y1} fontFamily={FONT} fontSize={32} fill="#000">{eventLabels[i][0]}</text>
            <text x={x(m) + annText[i].dx} y={annText[i].y2} fontFamily={FONT} fontSize={32} fill="#000">{eventLabels[i][1]}</text>
          </g>
        ))}

        {/* legend */}
        <g fontFamily={FONT} fontSize={25} fill={GREY_TEXT}>
          {legendItems.map((s, i) => {
            const y = legendY0 + i * legendStep;
            return (
              <g key={'lg' + s.name}>
                <line x1={27} x2={79} y1={y} y2={y} stroke={s.color} strokeWidth={LINE_W} strokeLinecap="round" />
                <text x={84} y={y} dy="0.35em">{s.name}</text>
              </g>
            );
          })}
        </g>
      </svg>
    </div>
  );
}
